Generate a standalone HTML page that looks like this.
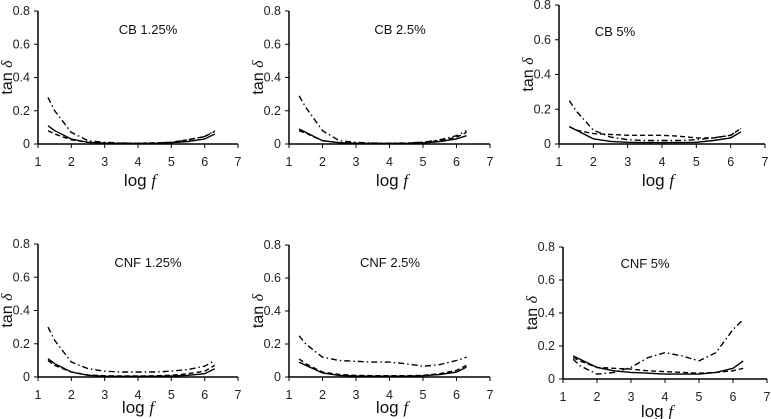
<!DOCTYPE html>
<html><head><meta charset="utf-8"><style>
html,body{margin:0;padding:0;background:#fff;}
svg{display:block;font-family:"Liberation Sans",sans-serif;}
</style></head><body>
<svg id="c" width="771" height="419"></svg>
<script>
const xs=[1.3,1.5,2,2.5,3,3.5,4,4.5,5,5.5,6,6.3];
const titles=["CB 1.25%","CB 2.5%","CB 5%","CNF 1.25%","CNF 2.5%","CNF 5%"];
const xTicks=[1,2,3,4,5,6,7];
const yTicks=[0,0.2,0.4,0.6,0.8];
const solid=[
[0.11,0.08,0.03,0.01,0.005,0.003,0.003,0.004,0.008,0.015,0.03,0.06],
[0.09,0.07,0.02,0.008,0.004,0.003,0.003,0.003,0.006,0.015,0.03,0.05],
[0.10,0.08,0.03,0.015,0.01,0.008,0.008,0.008,0.01,0.02,0.035,0.07],
[0.11,0.08,0.03,0.01,0.005,0.004,0.004,0.004,0.006,0.01,0.02,0.05],
[0.09,0.07,0.025,0.01,0.006,0.005,0.005,0.005,0.008,0.015,0.03,0.06],
[0.14,0.12,0.07,0.05,0.04,0.035,0.03,0.03,0.03,0.04,0.065,0.11]];
const dashed=[
[0.08,0.06,0.025,0.01,0.006,0.005,0.005,0.006,0.01,0.025,0.045,0.075],
[0.08,0.065,0.02,0.008,0.005,0.004,0.004,0.005,0.01,0.02,0.04,0.07],
[0.10,0.08,0.06,0.055,0.05,0.05,0.05,0.045,0.035,0.035,0.05,0.09],
[0.10,0.07,0.03,0.012,0.008,0.006,0.006,0.007,0.01,0.02,0.035,0.07],
[0.11,0.08,0.03,0.015,0.01,0.008,0.008,0.008,0.01,0.02,0.04,0.07],
[0.13,0.11,0.07,0.065,0.06,0.05,0.045,0.04,0.035,0.04,0.05,0.065]];
const dashdot=[
[0.28,0.2,0.07,0.02,0.01,0.006,0.005,0.006,0.01,0.025,0.045,0.08],
[0.29,0.22,0.08,0.02,0.01,0.006,0.005,0.006,0.01,0.025,0.05,0.08],
[0.25,0.19,0.08,0.04,0.025,0.02,0.02,0.02,0.025,0.035,0.05,0.09],
[0.30,0.22,0.09,0.05,0.035,0.03,0.03,0.03,0.035,0.045,0.065,0.10],
[0.25,0.2,0.12,0.1,0.095,0.09,0.09,0.08,0.065,0.075,0.1,0.12],
[0.12,0.08,0.03,0.04,0.07,0.13,0.16,0.14,0.11,0.16,0.3,0.36]];
// layout (not data): axis origin / extents per panel
const L=[{x0:38,x1:238,y0:144,y1:11,lx:140,ly:186},{x0:289,x1:490,y0:144,y1:11,lx:392,ly:186},{x0:559,x1:765,y0:144,y1:5,lx:658,ly:186},
{x0:38,x1:238,y0:377,y1:244,lx:138,ly:413},{x0:289,x1:490,y0:377,y1:245,lx:392,ly:413},{x0:563,x1:767,y0:379,y1:247,lx:657,ly:417}];
const T=[[148,34],[400,34],[615,36],[148,267],[390,267],[645,268]];
const svg=document.getElementById('c');const NS='http://www.w3.org/2000/svg';
function mk(t,a,p){const e=document.createElementNS(NS,t);for(const k in a)e.setAttribute(k,a[k]);(p||svg).appendChild(e);return e;}
L.forEach((l,i)=>{
 const g=mk('g',{});
 
 
 const sx=v=>l.x0+(v-1)/6*(l.x1-l.x0), sy=v=>l.y0-v/0.8*(l.y0-l.y1);
 const ax=mk('line',{x1:l.x0,y1:l.y0,x2:l.x1,y2:l.y0,stroke:'#000','stroke-width':1.5},g);
 
 
 const ay=mk('line',{x1:l.x0,y1:l.y0,x2:l.x0,y2:l.y1,stroke:'#000','stroke-width':1.5},g);
 
 
 xTicks.forEach(t=>{mk('line',{x1:sx(t),y1:l.y0,x2:sx(t),y2:l.y0+4,stroke:'#000'},g);
  const tx=mk('text',{x:sx(t),y:l.y0+22,'font-size':12.5,'text-anchor':'middle',fill:'#222'},g);tx.textContent=t;
  
  });
 yTicks.forEach(t=>{mk('line',{x1:l.x0-4,y1:sy(t),x2:l.x0,y2:sy(t),stroke:'#000'},g);
  const tx=mk('text',{x:l.x0-8,y:sy(t)+4,'font-size':12.5,'text-anchor':'end',fill:'#222'},g);tx.textContent=t;
  
  });
 const xl=mk('text',{x:l.lx,y:l.ly,'font-size':17,'text-anchor':'middle',fill:'#111'},g);
 xl.innerHTML='log <tspan font-style="italic" font-family="Liberation Serif">f</tspan>';
 
 
 const yc=(l.y0+l.y1)/2;
 const yl=mk('text',{x:0,y:0,'font-size':16,'text-anchor':'middle',fill:'#111',transform:`translate(${l.x0-26},${yc}) rotate(-90)`},g);
 yl.innerHTML='tan <tspan font-style="italic" font-family="Liberation Serif">δ</tspan>';
 
 
 const ti=mk('text',{x:T[i][0],y:T[i][1],'font-size':13,'text-anchor':'middle',fill:'#111'},g);ti.textContent=titles[i];
 
 
 [[solid,'','solid'],[dashed,'5,3','dashed'],[dashdot,'6,3,1.5,3','dashdot']].forEach(([d,da,n])=>{
  const pts=xs.map((x,j)=>sx(x).toFixed(1)+','+sy(d[i][j]).toFixed(1)).join(' ');
  const p=mk('polyline',{points:pts,fill:'none',stroke:'#000','stroke-width':1.4,'stroke-dasharray':da},g);
  
  
 });
});
</script>
</body></html>
